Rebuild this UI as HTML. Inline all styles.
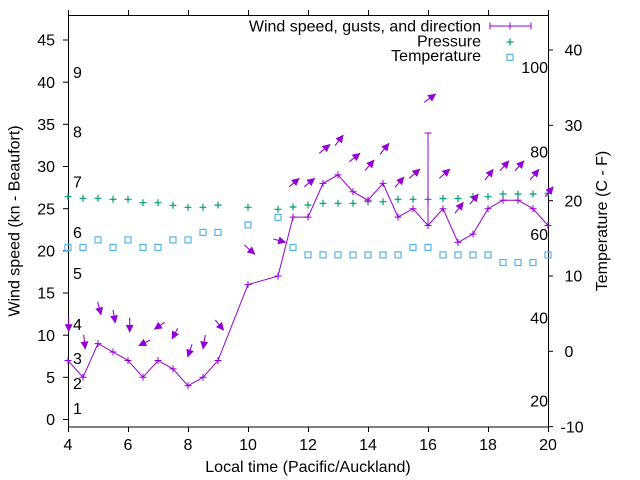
<!DOCTYPE html>
<html><head><meta charset="utf-8"><style>
html,body{margin:0;padding:0;background:#fff;}
svg{display:block;}
text{font-family:"Liberation Sans",Arial,sans-serif;font-size:16px;fill:#000;}
</style></head><body>
<svg width="640" height="480" viewBox="0 0 640 480" xmlns="http://www.w3.org/2000/svg">
<defs>
<marker id="ah" markerUnits="userSpaceOnUse" markerWidth="8" markerHeight="9" viewBox="0 0 8 9" refX="7.5" refY="4.5" orient="auto">
<path d="M0,0.5 L8,4.5 L0,8.5 z" fill="#9400d3"/>
</marker>
</defs>
<rect width="640" height="480" fill="#fff"/>

<!-- border -->
<rect x="68.5" y="15.5" width="480" height="411.5" fill="none" stroke="#000" stroke-width="1"/>

<!-- left ticks -->
<g stroke="#000" stroke-width="1">
<line x1="63" y1="419.5" x2="68" y2="419.5"/>
<line x1="63" y1="377.3" x2="68" y2="377.3"/>
<line x1="63" y1="335.2" x2="68" y2="335.2"/>
<line x1="63" y1="293" x2="68" y2="293"/>
<line x1="63" y1="250.8" x2="68" y2="250.8"/>
<line x1="63" y1="208.7" x2="68" y2="208.7"/>
<line x1="63" y1="166.5" x2="68" y2="166.5"/>
<line x1="63" y1="124.3" x2="68" y2="124.3"/>
<line x1="63" y1="82.2" x2="68" y2="82.2"/>
<line x1="63" y1="40" x2="68" y2="40"/>
<!-- right ticks -->
<line x1="548" y1="426.7" x2="553" y2="426.7"/>
<line x1="548" y1="351.3" x2="553" y2="351.3"/>
<line x1="548" y1="276" x2="553" y2="276"/>
<line x1="548" y1="200.7" x2="553" y2="200.7"/>
<line x1="548" y1="125.3" x2="553" y2="125.3"/>
<line x1="548" y1="50" x2="553" y2="50"/>
<!-- bottom ticks -->
<line x1="68.5" y1="427" x2="68.5" y2="432"/>
<line x1="128.5" y1="427" x2="128.5" y2="432"/>
<line x1="188.5" y1="427" x2="188.5" y2="432"/>
<line x1="248.5" y1="427" x2="248.5" y2="432"/>
<line x1="308.5" y1="427" x2="308.5" y2="432"/>
<line x1="368.5" y1="427" x2="368.5" y2="432"/>
<line x1="428.5" y1="427" x2="428.5" y2="432"/>
<line x1="488.5" y1="427" x2="488.5" y2="432"/>
<line x1="548.5" y1="427" x2="548.5" y2="432"/>
<!-- top ticks -->
<line x1="68.5" y1="10" x2="68.5" y2="15"/>
<line x1="128.5" y1="10" x2="128.5" y2="15"/>
<line x1="188.5" y1="10" x2="188.5" y2="15"/>
<line x1="248.5" y1="10" x2="248.5" y2="15"/>
<line x1="308.5" y1="10" x2="308.5" y2="15"/>
<line x1="368.5" y1="10" x2="368.5" y2="15"/>
<line x1="428.5" y1="10" x2="428.5" y2="15"/>
<line x1="488.5" y1="10" x2="488.5" y2="15"/>
<line x1="548.5" y1="10" x2="548.5" y2="15"/>
</g>

<!-- left tick labels -->
<g text-anchor="end">
<text x="55" y="425.2">0</text>
<text x="55" y="383">5</text>
<text x="55" y="340.9">10</text>
<text x="55" y="298.7">15</text>
<text x="55" y="256.5">20</text>
<text x="55" y="214.4">25</text>
<text x="55" y="172.2">30</text>
<text x="55" y="130">35</text>
<text x="55" y="87.9">40</text>
<text x="55" y="45.7">45</text>
</g>
<!-- bottom tick labels -->
<g text-anchor="middle">
<text x="68" y="449.8">4</text>
<text x="128" y="449.8">6</text>
<text x="188" y="449.8">8</text>
<text x="248" y="449.8">10</text>
<text x="308" y="449.8">12</text>
<text x="368" y="449.8">14</text>
<text x="428" y="449.8">16</text>
<text x="488" y="449.8">18</text>
<text x="548" y="449.8">20</text>
</g>
<!-- right tick labels -->
<text x="560.5" y="432.4">-10</text>
<text x="564.5" y="357">0</text>
<text x="564.5" y="281.7">10</text>
<text x="564.5" y="206.4">20</text>
<text x="564.5" y="131">30</text>
<text x="564.5" y="55.7">40</text>
<!-- Fahrenheit labels -->
<g text-anchor="end">
<text x="548" y="73.2">100</text>
<text x="548" y="157.4">80</text>
<text x="548" y="240.2">60</text>
<text x="548" y="323.7">40</text>
<text x="548" y="406.7">20</text>
</g>
<!-- Beaufort labels -->
<g>
<text x="73" y="414.2">1</text>
<text x="73" y="388.9">2</text>
<text x="73" y="363.9">3</text>
<text x="73" y="330">4</text>
<text x="73" y="279">5</text>
<text x="73" y="237.8">6</text>
<text x="73" y="187.4">7</text>
<text x="73" y="137.4">8</text>
<text x="73" y="78">9</text>
</g>

<!-- axis labels -->
<text x="308" y="472" text-anchor="middle">Local time (Pacific/Auckland)</text>
<text transform="translate(19.5,221) rotate(-90)" text-anchor="middle">Wind speed (kn - Beaufort)</text>
<text transform="translate(607,221) rotate(-90)" text-anchor="middle">Temperature (C - F)</text>

<!-- Pressure -->
<g stroke="#009e73" stroke-width="1.2" fill="none">
<path d="M64.5,196.7h7M68,193.2v7
M79.5,198.3h7M83,194.8v7
M94.5,198.3h7M98,194.8v7
M109.5,199.3h7M113,195.8v7
M124.5,199.3h7M128,195.8v7
M139.5,202.7h7M143,199.2v7
M154.5,202.7h7M158,199.2v7
M169.5,205.3h7M173,201.8v7
M184.5,207.3h7M188,203.8v7
M199.5,207.3h7M203,203.8v7
M214.5,205h7M218,201.5v7
M244.5,207.3h7M248,203.8v7
M274.5,209.3h7M278,205.8v7
M289.5,207h7M293,203.5v7
M304.5,205h7M308,201.5v7
M319.5,203.3h7M323,199.8v7
M334.5,203.3h7M338,199.8v7
M349.5,203.3h7M353,199.8v7
M364.5,201.7h7M368,198.2v7
M379.5,201.7h7M383,198.2v7
M394.5,199.3h7M398,195.8v7
M409.5,199.3h7M413,195.8v7
M424.5,199.3h7M428,195.8v7
M439.5,198.5h7M443,195v7
M454.5,198.5h7M458,195v7
M469.5,196.7h7M473,193.2v7
M484.5,196.7h7M488,193.2v7
M499.5,194h7M503,190.5v7
M514.5,194h7M518,190.5v7
M529.5,194h7M533,190.5v7
M544.5,193.3h7M548,189.8v7
M506.5,42h7M510,38.5v7"/>
</g>

<!-- Temperature -->
<g stroke="#56b4e9" stroke-width="1.2" fill="none">
<rect x="65" y="244.4" width="6" height="6"/>
<rect x="80" y="244.4" width="6" height="6"/>
<rect x="95" y="236.9" width="6" height="6"/>
<rect x="110" y="244.4" width="6" height="6"/>
<rect x="125" y="236.9" width="6" height="6"/>
<rect x="140" y="244.4" width="6" height="6"/>
<rect x="155" y="244.4" width="6" height="6"/>
<rect x="170" y="236.9" width="6" height="6"/>
<rect x="185" y="236.9" width="6" height="6"/>
<rect x="200" y="229.4" width="6" height="6"/>
<rect x="215" y="229.4" width="6" height="6"/>
<rect x="245" y="221.9" width="6" height="6"/>
<rect x="275" y="214.3" width="6" height="6"/>
<rect x="290" y="244.4" width="6" height="6"/>
<rect x="305" y="251.9" width="6" height="6"/>
<rect x="320" y="251.9" width="6" height="6"/>
<rect x="335" y="251.9" width="6" height="6"/>
<rect x="350" y="251.9" width="6" height="6"/>
<rect x="365" y="251.9" width="6" height="6"/>
<rect x="380" y="251.9" width="6" height="6"/>
<rect x="395" y="251.9" width="6" height="6"/>
<rect x="410" y="244.4" width="6" height="6"/>
<rect x="425" y="244.4" width="6" height="6"/>
<rect x="440" y="251.9" width="6" height="6"/>
<rect x="455" y="251.9" width="6" height="6"/>
<rect x="470" y="251.9" width="6" height="6"/>
<rect x="485" y="251.9" width="6" height="6"/>
<rect x="500" y="259.5" width="6" height="6"/>
<rect x="515" y="259.5" width="6" height="6"/>
<rect x="530" y="259.5" width="6" height="6"/>
<rect x="545" y="251.9" width="6" height="6"/>
<rect x="507" y="54.3" width="6" height="6"/>
</g>

<!-- Wind speed line -->
<g stroke="#9400d3" stroke-width="1" fill="none">
<polyline points="68,360.5 83,377.3 98,343.6 113,352 128,360.5 143,377.3 158,360.5 173,368.9 188,385.8 203,377.3 218,360.5 248,284.6 278,276.1 293,217.1 308,217.1 323,183.4 338,174.9 353,191.8 368,200.2 383,183.4 398,217.1 413,208.7 428,225.5 443,208.7 458,242.4 473,234 488,208.7 503,200.2 518,200.2 533,208.7 548,225.5"/>
<path d="M64.5,360.5h7M68,357v7
M79.5,377.3h7M83,373.8v7
M94.5,343.6h7M98,340.1v7
M109.5,352h7M113,348.5v7
M124.5,360.5h7M128,357v7
M139.5,377.3h7M143,373.8v7
M154.5,360.5h7M158,357v7
M169.5,368.9h7M173,365.4v7
M184.5,385.8h7M188,382.3v7
M199.5,377.3h7M203,373.8v7
M214.5,360.5h7M218,357v7
M244.5,284.6h7M248,281.1v7
M274.5,276.1h7M278,272.6v7
M289.5,217.1h7M293,213.6v7
M304.5,217.1h7M308,213.6v7
M319.5,183.4h7M323,179.9v7
M334.5,174.9h7M338,171.4v7
M349.5,191.8h7M353,188.3v7
M364.5,200.2h7M368,196.7v7
M379.5,183.4h7M383,179.9v7
M394.5,217.1h7M398,213.6v7
M409.5,208.7h7M413,205.2v7
M424.5,225.5h7M428,222v7
M439.5,208.7h7M443,205.2v7
M454.5,242.4h7M458,238.9v7
M469.5,234h7M473,230.5v7
M484.5,208.7h7M488,205.2v7
M499.5,200.2h7M503,196.7v7
M514.5,200.2h7M518,196.7v7
M529.5,208.7h7M533,205.2v7
M544.5,225.5h7M548,222v7"/>
<!-- gust error bar at 16 -->
<path d="M428,225.5V133M424.5,133h7"/>
<!-- legend sample -->
<path d="M490,26h41M490,22.5v7M531,22.5v7M506.5,26h7M510,22.5v7"/>
</g>

<!-- Direction arrows -->
<g stroke="#9400d3" stroke-width="1.1" fill="none" marker-end="url(#ah)">
<line x1="68.7" y1="317.7" x2="68.7" y2="331.7"/>
<line x1="83.7" y1="335" x2="85.3" y2="349"/>
<line x1="97.7" y1="301.7" x2="101" y2="315"/>
<line x1="113" y1="310" x2="115.3" y2="323"/>
<line x1="129.7" y1="317.7" x2="129.7" y2="332.3"/>
<line x1="150.3" y1="340" x2="138.7" y2="345.7"/>
<line x1="164.7" y1="322.3" x2="154.3" y2="329.3"/>
<line x1="177.7" y1="328.3" x2="172" y2="339"/>
<line x1="192" y1="344.3" x2="187.7" y2="357"/>
<line x1="205.3" y1="335" x2="203" y2="349"/>
<line x1="215.3" y1="320" x2="223.7" y2="330.3"/>
<line x1="244.3" y1="245" x2="255" y2="254.3"/>
<line x1="273.3" y1="239" x2="285.7" y2="242.3"/>
<line x1="289.3" y1="186.7" x2="299.3" y2="178.3"/>
<line x1="304.3" y1="186.7" x2="314.7" y2="178.3"/>
<line x1="319.3" y1="153.3" x2="330" y2="144.3"/>
<line x1="335" y1="145.7" x2="343.3" y2="135"/>
<line x1="349.3" y1="161.7" x2="360" y2="153.3"/>
<line x1="365" y1="170.7" x2="374" y2="160"/>
<line x1="380" y1="154.3" x2="389" y2="143.3"/>
<line x1="395" y1="187.3" x2="404" y2="177"/>
<line x1="409.3" y1="178.3" x2="420" y2="169"/>
<line x1="424.3" y1="102.3" x2="435.7" y2="94"/>
<line x1="439.3" y1="178.3" x2="450" y2="169"/>
<line x1="455" y1="213.3" x2="463.3" y2="202.3"/>
<line x1="470" y1="204" x2="478.3" y2="194"/>
<line x1="485" y1="180" x2="493.3" y2="169.3"/>
<line x1="500" y1="170.7" x2="509" y2="160.7"/>
<line x1="515" y1="170.7" x2="524" y2="160.7"/>
<line x1="530" y1="180" x2="539" y2="169.3"/>
<line x1="545" y1="196.7" x2="553.3" y2="186.7"/>
</g>

<!-- legend text -->
<g text-anchor="end">
<text x="481" y="31.5">Wind speed, gusts, and direction</text>
<text x="481" y="46.5">Pressure</text>
<text x="481" y="61">Temperature</text>
</g>
</svg>
</body></html>
